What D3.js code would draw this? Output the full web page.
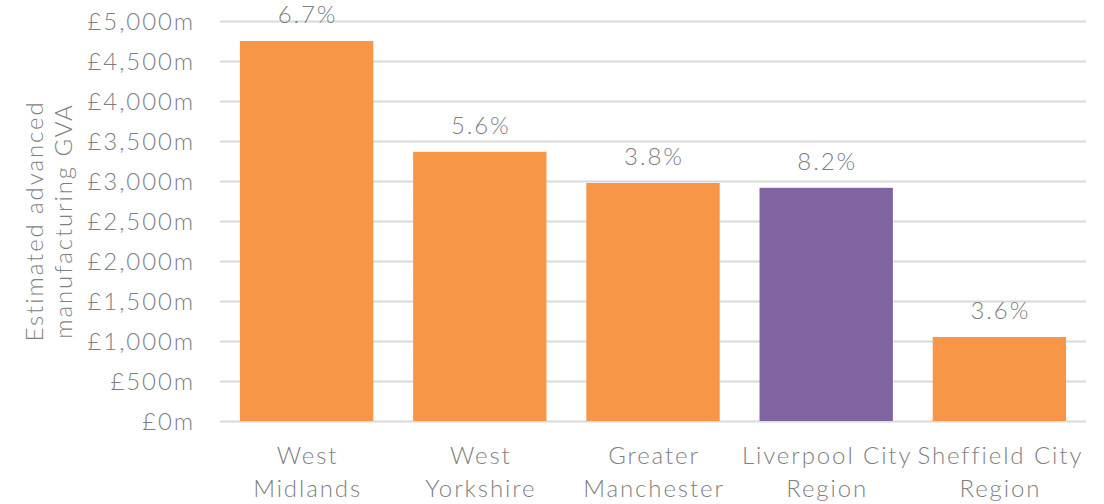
<!DOCTYPE html>
<html lang="en">
<head>
<meta charset="utf-8">
<title>Advanced manufacturing GVA</title>
<style>
  body { margin: 0; background: #fff; }
  text { font-family: Lato, "Noto Sans", sans-serif; font-weight: 300; fill: #7f7f7f; letter-spacing: 1.9px; font-size: 24px; }
  .grid line { stroke: #d9d9d9; stroke-width: 2px; }
</style>
</head>
<body>
<script src="https://d3js.org/d3.v7.min.js"></script>
<script>
// chart data
var regions = [["West", "Midlands"], ["West", "Yorkshire"], ["Greater", "Manchester"],
               ["Liverpool City", "Region"], ["Sheffield City", "Region"]];
var gva = [4750, 3365, 2975, 2915, 1050];
var shares = ["6.7%", "5.6%", "3.8%", "8.2%", "3.6%"];
var highlight = [false, false, false, true, false];
var yTicks = [0, 500, 1000, 1500, 2000, 2500, 3000, 3500, 4000, 4500, 5000];
var yTitle = ["Estimated advanced", "manufacturing GVA"];

var margin = {top: 21, right: 18, bottom: 83, left: 220},
    width = 1104 - margin.left - margin.right,
    height = 504 - margin.top - margin.bottom;

var svg = d3.select("body").append("svg")
    .attr("width", 1104)
    .attr("height", 504)
  .append("g")
    .attr("transform", `translate(${margin.left},${margin.top})`);

var x = d3.scaleBand()
    .domain(d3.range(regions.length))
    .range([0, width])
    .paddingInner(0.23)
    .paddingOuter(0.115);

var y = d3.scaleLinear()
    .domain([0, 5000])
    .range([height, 0]);

// gridlines
svg.append("g")
    .attr("class", "grid")
    .call(d3.axisLeft(y).tickValues(yTicks).tickSize(-width).tickFormat(""))
    .call(g => g.select(".domain").remove());

// y tick labels
svg.selectAll(".ylab")
    .data(yTicks)
  .enter().append("text")
    .attr("class", "ylab")
    .attr("x", -25)
    .attr("y", d => y(d))
    .attr("dy", "0.36em")
    .style("text-anchor", "end")
    .text(d => "£" + d3.format(",")(d) + "m");

// bars
svg.selectAll(".bar")
    .data(gva)
  .enter().append("rect")
    .attr("class", "bar")
    .attr("x", (d, i) => x(i))
    .attr("width", x.bandwidth())
    .attr("y", d => y(d))
    .attr("height", d => height - y(d))
    .attr("fill", (d, i) => highlight[i] ? "#8064a2" : "#f79646");

// value labels
svg.selectAll(".val")
    .data(gva)
  .enter().append("text")
    .attr("class", "val")
    .attr("x", (d, i) => x(i) + x.bandwidth() / 2 + 1)
    .attr("y", d => y(d) - 18)
    .style("text-anchor", "middle")
    .text((d, i) => shares[i]);

// category labels
var cat = svg.selectAll(".cat")
    .data(regions)
  .enter().append("text")
    .attr("class", "cat")
    .attr("y", height + 43)
    .style("text-anchor", "middle");
cat.append("tspan")
    .attr("x", (d, i) => x(i) + x.bandwidth() / 2 + 1)
    .text(d => d[0]);
cat.append("tspan")
    .attr("x", (d, i) => x(i) + x.bandwidth() / 2 + 1)
    .attr("dy", 33)
    .text(d => d[1]);

// y axis title
svg.append("text")
    .attr("transform", `translate(${-margin.left + 43},${height / 2}) rotate(-90)`)
    .style("text-anchor", "middle")
    .selectAll("tspan")
    .data(yTitle)
  .enter().append("tspan")
    .attr("x", 0)
    .attr("dy", (d, i) => i ? 29 : 0)
    .text(d => d);
</script>
</body>
</html>
